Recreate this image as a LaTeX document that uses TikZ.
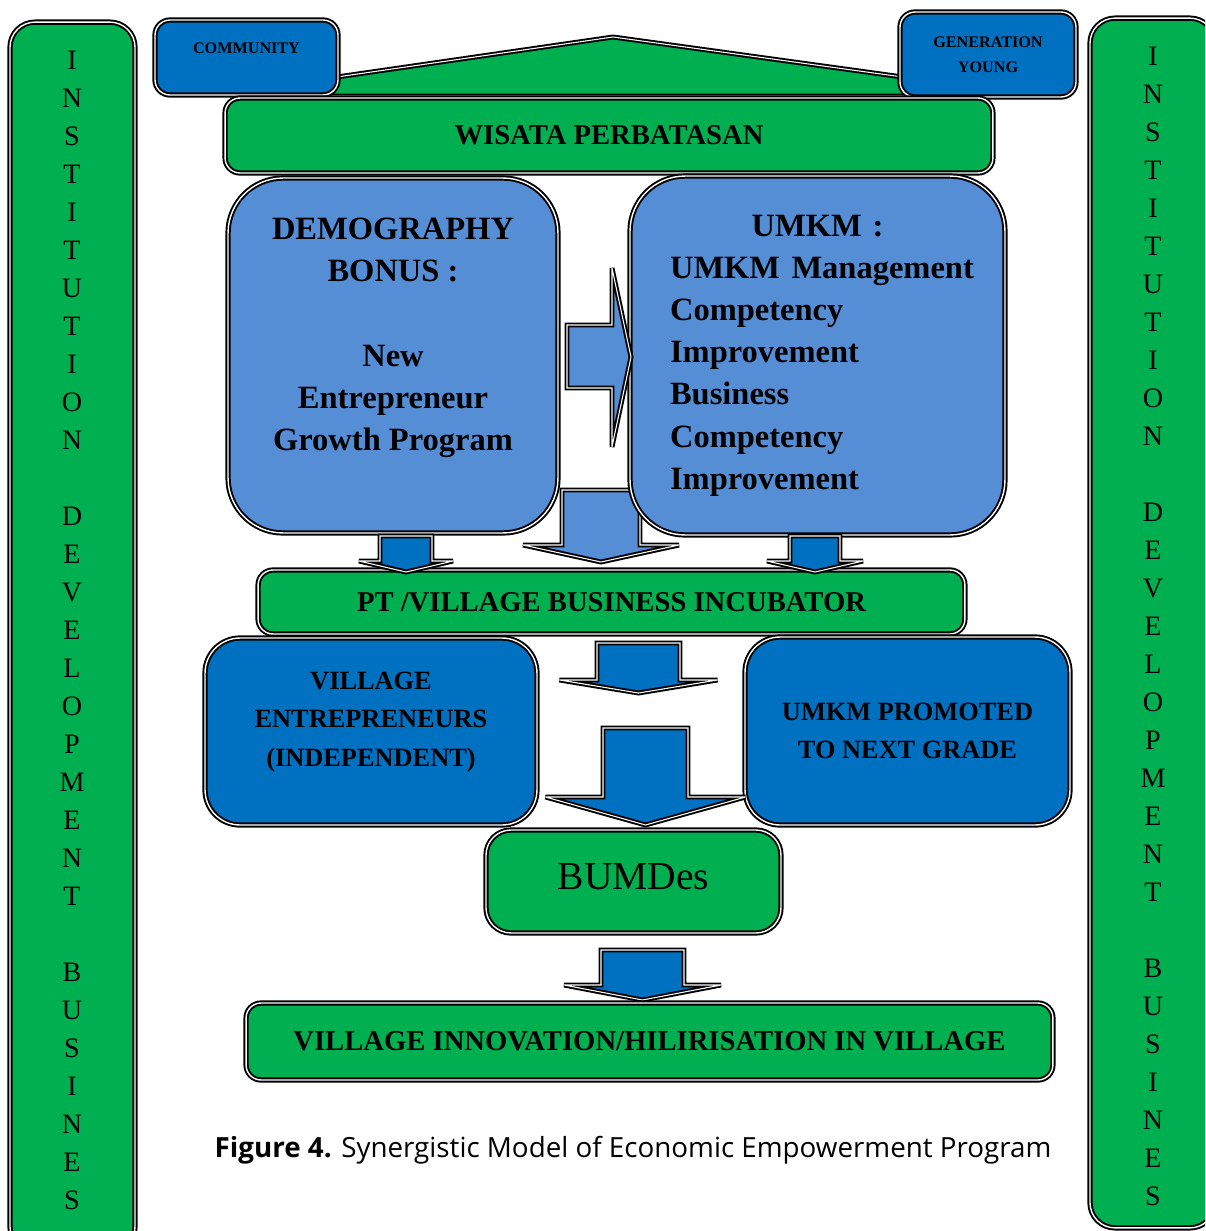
\documentclass[tikz,border=0pt]{standalone}
\usepackage{fontspec}
\setmainfont{Liberation Serif}
\newfontfamily\captionfont{Open Sans}
\usepackage{tikz}
\usetikzlibrary{calc}
\definecolor{grn}{RGB}{0, 176, 80}
\definecolor{dblue}{RGB}{0, 112, 192}
\definecolor{lblue}{RGB}{85, 142, 213}
\newcommand{\bigtext}{\bfseries\fontsize{18.5}{24}\selectfont}
\newcommand{\bartext}{\bfseries\fontsize{16.3}{19}\selectfont}
\newcommand{\boxtext}{\bfseries\fontsize{15}{22}\selectfont}
\tikzset{
  box/.style={draw=black, line width=1.1pt, double=white, double distance=0.8pt,
    align=center, inner sep=0pt},
  blockarrow/.style={draw=black, line width=1.1pt, double=white, double distance=0.6pt,
    line join=miter, miter limit=4},
  sideletter/.style={font=\fontsize{16}{19}\selectfont, inner sep=0pt}
}
% block arrow pointing down: x, top, wing y, tip y, half shaft, half head, fill
\newcommand{\dnarrow}[7]{%
  \draw[blockarrow, fill=#7] ({#1-#5}, #2) -- ({#1-#5}, #3) -- ({#1-#6}, #3)
    -- (#1, #4) -- ({#1+#6}, #3) -- ({#1+#5}, #3) -- ({#1+#5}, #2) -- cycle;
}

\begin{document}
\begin{tikzpicture}[x=0.02cm, y=-0.02cm]
  \useasboundingbox (0, 0) rectangle (1205, 1231);
  \clip (0, 0) rectangle (1205, 1231);

  % institution bars
  \node[box, fill=grn, rounded corners=0.5cm, minimum width=2.5cm, minimum height=24.6cm]
    (leftbar) at (72.5, 637) {};
  \node[box, fill=grn, rounded corners=0.5cm, minimum width=2.5cm, minimum height=24.2cm]
    (rightbar) at (1152.5, 623) {};
  \foreach \l [count=\i from 0] in {I,N,S,T,I,T,U,T,I,O,N,,D,E,V,E,L,O,P,M,E,N,T,,B,U,S,I,N,E,S} {
    \node[sideletter] (ll\i) at (72, 60 + 38 * \i) {\l};
    \node[sideletter] (rl\i) at (1153, 56 + 38 * \i) {\l};
  }

  % roof
  \draw[blockarrow, fill=grn] (330, 96) -- (330, 78) -- (613, 37) -- (910, 78) -- (910, 96) -- cycle;
  \node[box, fill=dblue, rounded corners=0.3cm, minimum width=3.66cm, minimum height=1.5cm,
    font=\bfseries\fontsize{9.2}{11}\selectfont] (community) at (246.5, 57.5) {COMMUNITY\\ \mbox{}};
  \node[box, fill=dblue, rounded corners=0.3cm, minimum width=3.52cm, minimum height=1.7cm,
    font=\bfseries\fontsize{9.2}{14}\selectfont] (young) at (988, 54.5) {GENERATION\\YOUNG};
  \node[box, fill=grn, rounded corners=0.3cm, minimum width=15.36cm, minimum height=1.5cm,
    font=\bartext] (wisata) at (609, 135.5) {WISATA PERBATASAN};

  \dnarrow{601}{490}{545}{562}{39}{78}{lblue}

  \node[box, fill=lblue, rounded corners=1.1cm, minimum width=6.6cm, minimum height=7.1cm,
    font=\bigtext] (demo) at (393, 355.5)
    {DEMOGRAPHY\\BONUS :\\ \mbox{}\\New\\Entrepreneur\\Growth Program\\ \mbox{}};
  \node[box, fill=lblue, rounded corners=1.1cm, minimum width=7.5cm, minimum height=7.18cm,
    text width=5.9cm, align=left, font=\bigtext] (umkm) at (817.5, 355.5)
    {\makebox[5.9cm]{UMKM :}\\\mbox{UMKM\hspace{0.35em}Management}\\Competency\\Improvement\\Business\\Competency\\Improvement};
  \draw[blockarrow, fill=lblue] (567, 325) -- (612, 325) -- (612, 268) -- (631, 357)
    -- (612, 447) -- (612, 388) -- (567, 388) -- cycle;

  \node[box, fill=grn, rounded corners=0.3cm, minimum width=14.14cm, minimum height=1.28cm,
    font=\bartext] (pt) at (611.5, 602) {PT /VILLAGE BUSINESS INCUBATOR};
  \dnarrow{406}{536}{561}{572}{26}{47}{dblue}
  \dnarrow{815}{536}{561}{572}{25}{48}{dblue}

  \node[box, fill=dblue, rounded corners=0.7cm, minimum width=6.64cm, minimum height=3.74cm,
    font=\boxtext] (villent) at (371, 731.5)
    {VILLAGE\\ENTREPRENEURS\\(INDEPENDENT)\\[-8pt] \mbox{}};
  \node[box, fill=dblue, rounded corners=0.7cm, minimum width=6.5cm, minimum height=3.76cm,
    font=\boxtext] (promoted) at (907.5, 731) {UMKM PROMOTED\\TO NEXT GRADE};
  \dnarrow{638.5}{643}{680}{693}{41.5}{79}{dblue}
  \dnarrow{645.5}{728}{797}{825}{42.5}{100}{dblue}

  \node[box, fill=grn, rounded corners=0.5cm, minimum width=5.9cm, minimum height=2.06cm,
    font=\fontsize{22.5}{26}\selectfont] (bumdes) at (633.5, 881.5) {BUMDes\\[-20pt] \mbox{}};
  \dnarrow{642.5}{950}{985}{1000}{41.5}{78.5}{dblue}
  \node[box, fill=grn, rounded corners=0.3cm, minimum width=16.14cm, minimum height=1.54cm,
    font=\bartext] (innov) at (649.5, 1041.5) {VILLAGE INNOVATION/HILIRISATION IN VILLAGE};

  \node[font=\captionfont\fontsize{15.8}{18}\selectfont] (caption) at (633, 1150)
    {\textbf{Figure 4.} Synergistic Model of Economic Empowerment Program};
\end{tikzpicture}
\end{document}
